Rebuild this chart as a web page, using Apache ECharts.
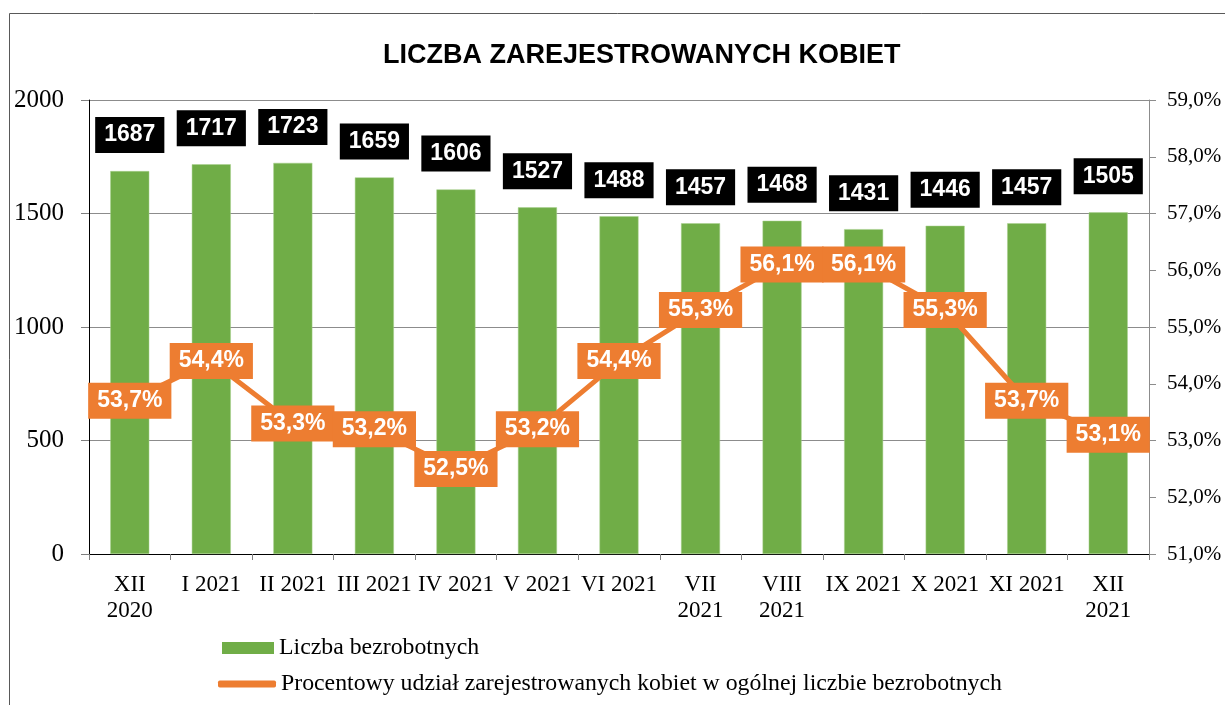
<!DOCTYPE html>
<html>
<head>
<meta charset="utf-8">
<script src="https://cdn.jsdelivr.net/npm/echarts@6/dist/echarts.min.js"></script>
<style>
html,body{margin:0;padding:0;background:#fff;}
#chart{width:1225px;height:705px;}
</style>
</head>
<body>
<div id="chart"></div>
<script>
var titleText = 'LICZBA ZAREJESTROWANYCH KOBIET';
var categories = ['XII\n2020','I 2021','II 2021','III 2021','IV 2021','V 2021','VI 2021','VII\n2021','VIII\n2021','IX 2021','X 2021','XI 2021','XII\n2021'];
var barName = 'Liczba bezrobotnych';
var lineName = 'Procentowy udział zarejestrowanych kobiet w ogólnej liczbie bezrobotnych';
var barValues = [1687,1717,1723,1659,1606,1527,1488,1457,1468,1431,1446,1457,1505];
var lineValues = [53.7,54.4,53.3,53.2,52.5,53.2,54.4,55.3,56.1,56.1,55.3,53.7,53.1];
var leftTicks = {min:0, max:2000, interval:500};
var rightTicks = {min:51, max:59, interval:1};

var serif = '"Liberation Serif","Times New Roman",serif';
var sans = '"Liberation Sans",Arial,sans-serif';
function pct(v){ return v.toFixed(1).replace('.', ',') + '%'; }

var chart = echarts.init(document.getElementById('chart'), null, {renderer:'canvas'});
chart.setOption({
  animation:false,
  backgroundColor:'#fff',
  graphic:[
    {type:'line', shape:{x1:9.5,y1:13.5,x2:1225,y2:13.5}, style:{stroke:'#595959',lineWidth:1}},
    {type:'line', shape:{x1:9.5,y1:13.5,x2:9.5,y2:705}, style:{stroke:'#595959',lineWidth:1}}
  ],
  title:{
    text:titleText, left:378, top:37,
    textStyle:{fontFamily:sans, fontSize:27, fontWeight:'bold', color:'#000'}
  },
  legend:[
    {
      data:[{name:barName, icon:'rect'}], orient:'vertical', left:217, top:631,
      itemWidth:52, itemHeight:12, itemGap:5,
      itemStyle:{borderWidth:0},
      textStyle:{fontFamily:serif, fontSize:23.8, color:'#000'}
    },
    {
      data:[{name:lineName, icon:'roundRect'}], orient:'vertical', left:213, top:667,
      itemWidth:58, itemHeight:7, itemGap:5,
      itemStyle:{borderWidth:0},
      textStyle:{fontFamily:serif, fontSize:23.8, color:'#000'}
    }
  ],
  grid:{left:89, right:76, top:100, bottom:151, containLabel:false},
  xAxis:{
    type:'category', data:categories, boundaryGap:true,
    axisLine:{show:true, lineStyle:{color:'#000', width:1}},
    axisTick:{show:true, length:6, alignWithLabel:false, lineStyle:{color:'#7f7f7f'}},
    axisLabel:{interval:0, margin:18, fontFamily:serif, fontSize:23, color:'#000', lineHeight:26}
  },
  yAxis:[
    {
      type:'value', min:leftTicks.min, max:leftTicks.max, interval:leftTicks.interval,
      axisLine:{show:true, lineStyle:{color:'#000'}},
      axisTick:{show:true, length:8, lineStyle:{color:'#7f7f7f'}},
      axisLabel:{margin:25, fontFamily:serif, fontSize:25, color:'#000', formatter:function(v){return String(v);}},
      splitLine:{show:true, lineStyle:{color:'#8c8c8c', width:1}}
    },
    {
      type:'value', min:rightTicks.min, max:rightTicks.max, interval:rightTicks.interval,
      position:'right',
      axisLine:{show:true, lineStyle:{color:'#8c8c8c'}},
      axisTick:{show:true, length:7, lineStyle:{color:'#8c8c8c'}},
      axisLabel:{margin:18, fontFamily:serif, fontSize:21, color:'#000', formatter:function(v){return pct(v);}},
      splitLine:{show:false}
    }
  ],
  series:[
    {
      name:barName, type:'bar', data:barValues, barWidth:39, z:2,
      itemStyle:{color:'#70AD47', borderColor:'#a9d18e', borderWidth:0.5},
      label:{
        show:true, position:'top', distance:18,
        backgroundColor:'#000', color:'#fff', fontFamily:sans, fontWeight:'bold',
        fontSize:23, lineHeight:24, padding:[6,9,6,9]
      }
    },
    {
      name:lineName, type:'line', yAxisIndex:1, data:lineValues, z:5,
      symbol:'circle', symbolSize:1, showSymbol:true,
      lineStyle:{color:'#ED7D31', width:5},
      itemStyle:{color:'#ED7D31'},
      label:{
        show:true, position:'inside', formatter:function(p){return pct(p.value);},
        backgroundColor:'#ED7D31', color:'#fff', fontFamily:sans, fontWeight:'bold',
        fontSize:23, lineHeight:24, padding:[6,9,6,9]
      },
      labelLayout:{hideOverlap:false}
    }
  ]
});
</script>
</body>
</html>
